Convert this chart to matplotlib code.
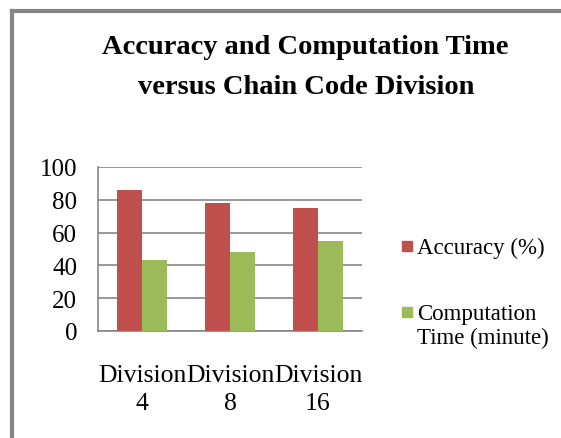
import numpy as np
import matplotlib
matplotlib.use("Agg")
import matplotlib.pyplot as plt
from matplotlib.lines import Line2D
from matplotlib.patches import Rectangle

# Data
categories = ["Division\n4", "Division\n8", "Division\n16"]
accuracy = [86, 78, 75]
comp_time = [43, 48, 55]
series_labels = ["Accuracy (%)", "Computation\nTime (minute)"]
y_ticks = [0, 20, 40, 60, 80, 100]

RED = "#C0504D"
GREEN = "#9BBB59"
GRID = "#868686"

plt.rcParams['font.family'] = ['Liberation Serif', 'DejaVu Serif']

fig = plt.figure(figsize=(5.61, 4.39), dpi=100)
fig.patch.set_facecolor("white")

# chart frame (left and top edges visible in the crop)
fig.add_artist(Line2D([12/561, 12/561], [0, 1 - 12/439], transform=fig.transFigure,
                      color=GRID, lw=3))
fig.add_artist(Line2D([12/561, 1], [1 - 12/439, 1 - 12/439], transform=fig.transFigure,
                      color=GRID, lw=3))

fig.text(0.545, 1 - 48/439, "Accuracy and Computation Time", ha="center", va="center",
         fontsize=20.5, fontweight="bold")
fig.text(0.545, 1 - 88/439, "versus Chain Code Division", ha="center", va="center",
         fontsize=20.5, fontweight="bold")

ax = fig.add_axes([98/561, 1 - 332/439, 264/561, 164/439])
x = np.arange(len(categories))
w = 0.28
ax.bar(x - w/2, accuracy, w, color=RED, zorder=3)
ax.bar(x + w/2, comp_time, w, color=GREEN, zorder=3)

ax.set_xlim(-0.5, len(categories) - 0.5)
ax.set_ylim(0, 100)
ax.set_yticks(y_ticks)
ax.set_yticklabels([str(v) for v in y_ticks], fontsize=18)
ax.set_xticks(x)
ax.set_xticklabels(categories, fontsize=18.5, linespacing=1.35)
ax.tick_params(axis="both", length=0)
ax.tick_params(axis="y", pad=15)
ax.tick_params(axis="x", pad=24)
ax.yaxis.grid(True, color=GRID, lw=1.2, zorder=0)
for s in ["top", "right"]:
    ax.spines[s].set_visible(False)
for s in ["left", "bottom"]:
    ax.spines[s].set_color(GRID)
    ax.spines[s].set_linewidth(1.2)

# legend drawn by hand so the green key sits next to the first text line
legend_colors = [RED, GREEN]
legend_rows = [247, 313]
for col, lab, yrow in zip(legend_colors, series_labels, legend_rows):
    fig.add_artist(Rectangle((402/561, 1 - (yrow + 5)/439), 10/561, 10/439,
                             transform=fig.transFigure, color=col))
    fig.text(417/561, 1 - (yrow - 9)/439, lab, ha="left", va="top",
             fontsize=16.5, linespacing=1.15)

fig.savefig("out.png", dpi=100)
